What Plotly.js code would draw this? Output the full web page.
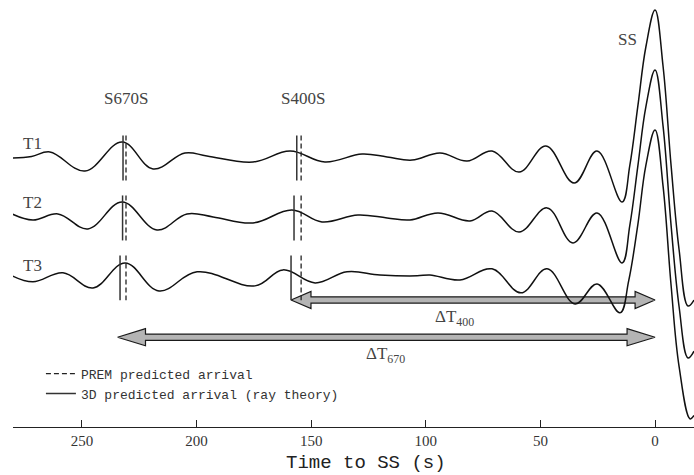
<!DOCTYPE html>
<html>
<head>
<meta charset="utf-8">
<script src="https://cdn.plot.ly/plotly-3.0.1.min.js"></script>
<style>html,body{margin:0;padding:0;background:#fff;}#chart{width:694px;height:475px;}</style>
</head>
<body>
<div id="chart"></div>
<script>
// ---- data (time to SS in seconds, normalized amplitude) ----
const traceNames = ['T1', 'T2', 'T3'];

const t1Time = [280.5, 272, 264.0, 248.7, 232.5, 219.0, 205.1, 195.5, 175.4, 159.2, 144.0, 127.8, 116.9, 106.0, 93.8, 82.0, 71.1, 59.3, 47.6, 35.3, 25.3, 14.4, 11, 7.5, 4, 0, -3.5, -7, -10.5, -14.4, -17];
const t1Amp  = [0.0, 0.01, 0.041, -0.088, 0.108, -0.074, 0.034, 0.014, -0.027, 0.047, -0.027, 0.027, 0.007, -0.014, 0.034, -0.020, 0.047, -0.095, 0.081, -0.169, 0.047, -0.297, -0.05, 0.35, 0.75, 1.0, 0.62, -0.05, -0.62, -1.0, -0.96];

const t2Time = [280.5, 271.4, 260.5, 247.4, 232.5, 217.3, 204.2, 192.8, 175.4, 158.4, 145.3, 129.6, 116.9, 106.9, 94.7, 80.7, 71.1, 59.3, 47.1, 35.8, 25.3, 14.4, 11, 7.5, 4, 0, -3.5, -7, -10.5, -14.4, -17];
const t2Amp  = [0.027, -0.014, 0.027, -0.074, 0.108, -0.081, 0.027, 0.007, -0.034, 0.054, -0.027, 0.020, 0.0, -0.014, 0.034, -0.020, 0.047, -0.095, 0.068, -0.169, 0.034, -0.304, -0.05, 0.35, 0.75, 1.0, 0.62, -0.05, -0.6, -0.946, -0.9];

const t3Time = [280.5, 271.4, 258.3, 245.2, 231.2, 216.4, 199.8, 174.5, 162.3, 148.3, 134.4, 120.0, 103.8, 98.2, 85.1, 71.1, 58.5, 47.1, 34.9, 25.3, 15.3, 11.5, 7.5, 4, 0, -3.5, -7, -10.5, -15.3, -17];
const t3Amp  = [0.014, -0.027, 0.034, -0.068, 0.101, -0.088, 0.041, -0.054, 0.054, -0.034, 0.041, 0.020, 0.014, 0.020, -0.014, 0.061, -0.101, 0.061, -0.176, -0.041, -0.236, -0.02, 0.36, 0.76, 1.0, 0.62, -0.05, -0.6, -0.953, -0.93];

const traceOffsets = [0, -0.405, -0.81];

// arrival times (s before SS)
const arr670_3D   = [232.1, 232.3, 233.4];
const arr670_PREM = [230.8, 230.8, 230.8];
const arr400_3D   = [156.3, 157.5, 158.8];
const arr400_PREM = [154.4, 154.4, 154.4];

// differential travel-time arrows: start (left tip) and end (right tip)
const arrowLabels = ['ΔT<sub>400</sub>', 'ΔT<sub>670</sub>'];
const arrowStart  = [158.8, 234.5];
const arrowEnd    = [0, 0];

const xTickVals = [250, 200, 150, 100, 50, 0];
const xTitle = 'Time to SS (s)';

// ---- drawing ----
const serif = 'Liberation Serif, Times New Roman, serif';
const mono = 'Liberation Mono, DejaVu Sans Mono, monospace';
const traces = [];

// arrows (drawn first, waveforms on top)
const arrowY = [-0.959, -1.211];
const arrowHead = [8.7, 12.2];
const headHalf = 0.058, shaftHalf = 0.021;
for (let i = 0; i < arrowStart.length; i++) {
  const a = arrowStart[i], b = arrowEnd[i], y = arrowY[i], h = arrowHead[i];
  traces.push({
    x: [a, a - h, a - h, b + h, b + h, b, b + h, b + h, a - h, a - h, a],
    y: [y, y + headHalf, y + shaftHalf, y + shaftHalf, y + headHalf, y, y - headHalf, y - shaftHalf, y - shaftHalf, y - headHalf, y],
    mode: 'lines', fill: 'toself', fillcolor: '#b4b4b4',
    line: {color: '#1a1a1a', width: 1.2},
    showlegend: false, hoverinfo: 'skip'
  });
}

// waveforms
const times = [t1Time, t2Time, t3Time];
const amps = [t1Amp, t2Amp, t3Amp];
for (let i = 0; i < 3; i++) {
  traces.push({
    x: times[i], y: amps[i].map(v => v + traceOffsets[i]),
    mode: 'lines', line: {color: '#111', width: 1.5, shape: 'spline', smoothing: 1.1},
    name: traceNames[i], showlegend: false, hoverinfo: 'skip'
  });
}

// arrival markers
const half = 0.152;
function bars(list) {
  const xs = [], ys = [];
  list.forEach(([arr, off]) => { xs.push(arr, arr, null); ys.push(off + half, off - half, null); });
  return {xs, ys};
}
const premPairs = [], d3Pairs = [];
for (let i = 0; i < 3; i++) {
  premPairs.push([arr670_PREM[i], traceOffsets[i]], [arr400_PREM[i], traceOffsets[i]]);
  d3Pairs.push([arr670_3D[i], traceOffsets[i]], [arr400_3D[i], traceOffsets[i]]);
}
const pb = bars(premPairs), db = bars(d3Pairs);
traces.push({x: pb.xs, y: pb.ys, mode: 'lines', name: 'PREM predicted arrival',
  line: {color: '#222', width: 1.3, dash: '5px,3px'}, hoverinfo: 'skip'});
traces.push({x: db.xs, y: db.ys, mode: 'lines', name: '3D predicted arrival (ray theory)',
  line: {color: '#333', width: 1.5}, hoverinfo: 'skip'});

const labelFont = {family: serif, size: 17, color: '#444'};
const annotations = [
  {x: 230.8, y: 0.40, text: 'S670S'},
  {x: 153.6, y: 0.40, text: 'S400S'},
  {x: 12.2, y: 0.80, text: 'SS'},
  {x: 271.4, y: 0.095, text: traceNames[0]},
  {x: 271.4, y: -0.304, text: traceNames[1]},
  {x: 271.4, y: -0.723, text: traceNames[2]},
  {x: 87.3, y: -1.08, text: arrowLabels[0]},
  {x: 117.8, y: -1.33, text: arrowLabels[1]}
].map(a => Object.assign({xref: 'x', yref: 'y', showarrow: false, font: labelFont}, a));
// x-axis title, placed as in the original figure (slightly right of centre)
annotations.push({xref: 'paper', yref: 'paper', x: 0.518, y: -0.085, xanchor: 'center', yanchor: 'middle',
  showarrow: false, text: xTitle, font: {family: mono, size: 19, color: '#222'}});

const layout = {
  width: 694, height: 475,
  margin: {l: 13, r: 0, t: 0, b: 48},
  paper_bgcolor: '#fff', plot_bgcolor: '#fff',
  showlegend: true,
  legend: {x: 0.041, y: 0.16, xanchor: 'left', yanchor: 'top', bgcolor: 'rgba(0,0,0,0)',
    font: {family: mono, size: 13, color: '#333'}, tracegroupgap: 0},
  xaxis: {
    range: [280.1, -17.0], tickvals: xTickVals, ticks: 'inside', ticklen: 7, tickcolor: '#222',
    showline: true, linecolor: '#222', linewidth: 1.3, showgrid: false, zeroline: false,
    tickfont: {family: serif, size: 15, color: '#333'}
  },
  yaxis: {range: [-1.8176, 1.0676], visible: false},
  annotations: annotations
};

Plotly.newPlot('chart', traces, layout, {staticPlot: true});
</script>
</body>
</html>
